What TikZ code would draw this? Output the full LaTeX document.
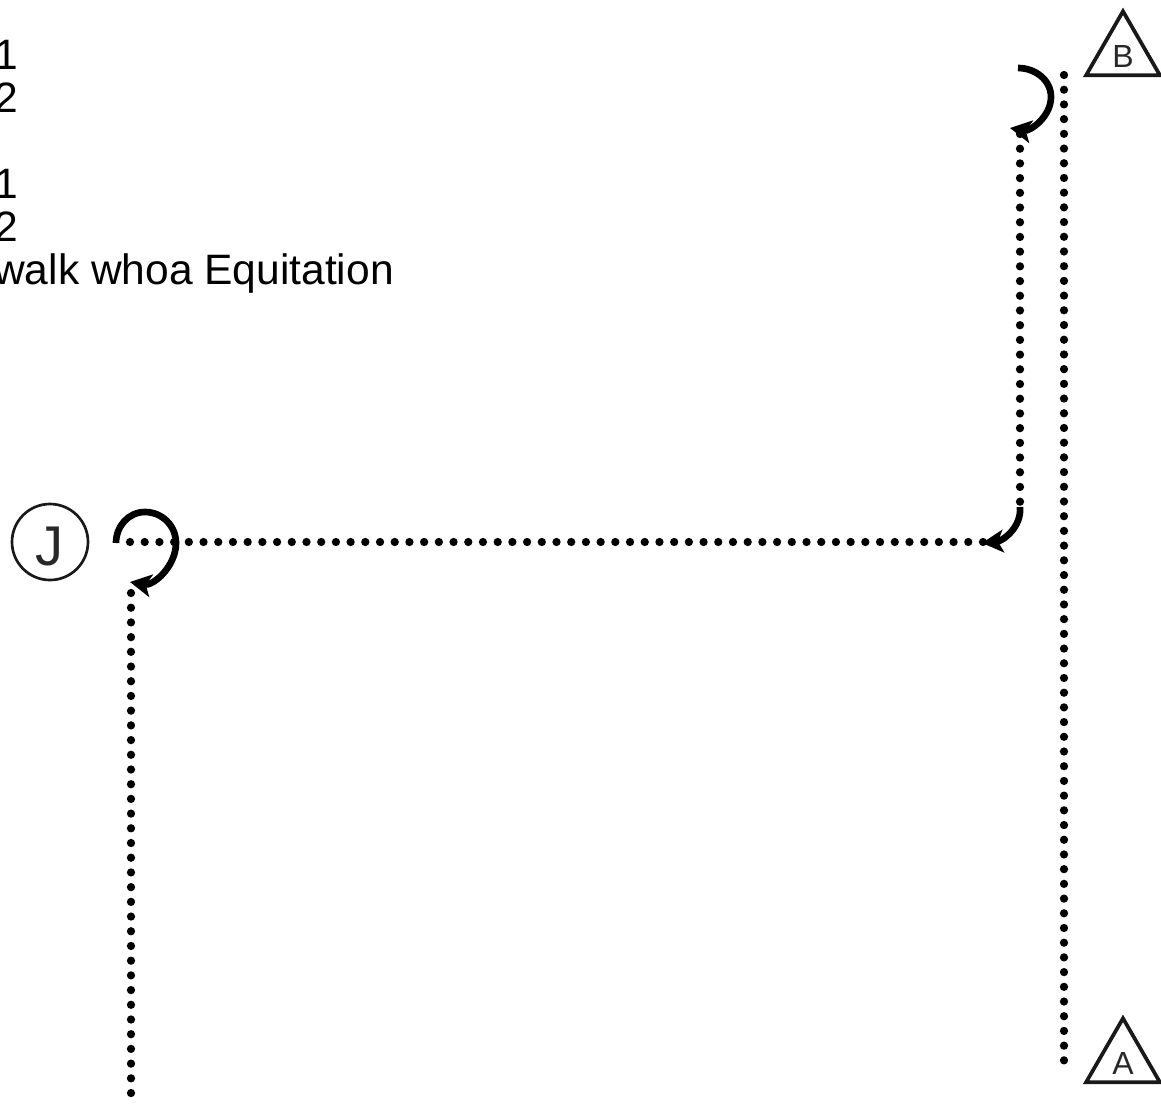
\documentclass[tikz,border=0pt]{standalone}
\usepackage{fontspec}
\setmainfont{Liberation Sans}
\usetikzlibrary{shapes.geometric,arrows.meta,positioning}
\definecolor{letterGray}{RGB}{40,40,40}

\begin{document}
\begin{tikzpicture}[
  x=0.75pt, y=0.75pt,
  cone/.style={regular polygon, regular polygon sides=3, draw=black!90,
               line width=2.8pt, minimum size=64pt, inner sep=0pt,
               text height=20.5pt, text depth=0pt,
               font=\fontsize{24}{24}\selectfont, text=letterGray},
  judge/.style={circle, draw=black!90, line width=2pt, minimum size=57pt,
                inner sep=0pt, text height=34.5pt, text depth=0pt,
                font=\fontsize{42}{42}\selectfont, text=letterGray},
  track/.style={line width=6.2pt, line cap=round, dash pattern=on 0pt off 11.03pt},
  turn/.style={-{Stealth[length=16pt, width=17pt, inset=4pt]}, line width=5pt}
]
  \useasboundingbox (0,0) rectangle (1161,-1104);

  \node[anchor=north west, inner sep=0pt, align=left,
        font=\fontsize{31.9}{32.25}\selectfont] (legend) at (-6,-40)
    {1\\2\\ \\1\\2\\walk whoa Equitation};

  \node[cone] (B) at (1123,-54) {B};
  \node[cone] (A) at (1123,-1061) {A};
  \node[judge] (J) at (50,-542) {J};

  % Track ends
  \coordinate (railTop) at (1064,-75);
  \coordinate (railEnd) at (1064,-1067);
  \coordinate (legOne) at (1020,-134);
  \coordinate (legOneEnd) at (1020,-504);
  \coordinate (legTwo) at (983,-542);
  \coordinate (legTwoEnd) at (125,-542);
  \coordinate (legThree) at (131,-593);
  \coordinate (legThreeEnd) at (131,-1100);

  \foreach \a/\b in {railTop/railEnd, legOne/legOneEnd, legTwo/legTwoEnd, legThree/legThreeEnd}
    \draw[track] (\a) -- (\b);

  % Turn arrows
  \coordinate (turnB) at (1018,-68);
  \coordinate (turnBside) at (1051,-97);
  \coordinate (turnBtip) at (1010,-128);
  \draw[turn] (turnB) to[out=0, in=90] (turnBside) to[out=-90, in=-10] (turnBtip);

  \coordinate (turnC) at (1020,-507);
  \coordinate (turnCtip) at (982,-543);
  \draw[turn] (turnC) to[out=-85, in=5] (turnCtip);

  \coordinate (turnJ) at (116,-543);
  \coordinate (turnJtop) at (145,-512);
  \coordinate (turnJside) at (176,-543);
  \coordinate (turnJtip) at (130,-582);
  \draw[turn] (turnJ) to[out=90, in=180] (turnJtop) to[out=0, in=90] (turnJside)
    to[out=-90, in=-10] (turnJtip);
\end{tikzpicture}
\end{document}
